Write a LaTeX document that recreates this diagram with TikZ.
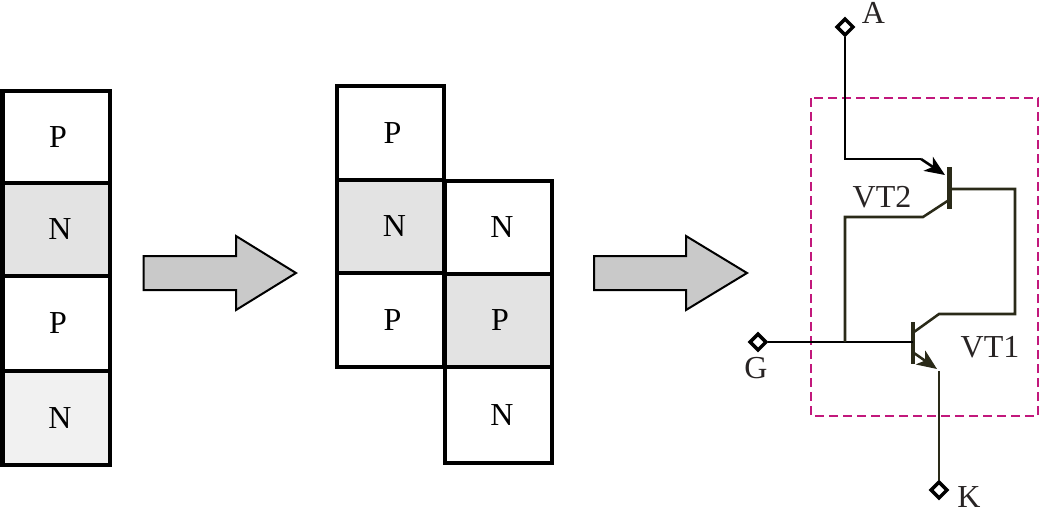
\documentclass[tikz,border=0pt]{standalone}
\usepackage{fontspec}
\setmainfont{Liberation Serif}
\usetikzlibrary{shapes.geometric,arrows.meta}
\definecolor{wire}{HTML}{2A2A18}
\definecolor{shadeA}{HTML}{E3E3E3}
\definecolor{shadeB}{HTML}{F1F1F1}
\definecolor{arrowgray}{HTML}{C9C9C9}
\definecolor{modborder}{HTML}{C2187C}
\newcommand{\cellP}{\hspace{3pt}P}
\newcommand{\cellN}{\hspace{6pt}N}
\tikzset{
  cell/.style={draw=black,line width=3pt,fill=white,minimum width=80.25pt,inner sep=0pt,font=\fontsize{24}{24}\selectfont},
  term/.style={diamond,draw=black,line width=2.6pt,fill=white,minimum width=13pt,minimum height=13pt,inner sep=0pt},
  lab/.style={inner sep=0pt,text=black!95!olive,font=\fontsize{24}{24}\selectfont},
  bigarrow/.style={draw=black,line width=1.5pt,fill=arrowgray,line join=miter},
  wireline/.style={draw=wire,line width=1.9pt},
  gbar/.style={draw=wire,line width=3.2pt},
  tip/.style={-{Stealth[length=15pt,width=12.5pt,inset=4pt]}}
}
\begin{document}
\begin{tikzpicture}[x=0.75pt,y=-0.75pt]
\useasboundingbox (0,0) rectangle (1040,511);
% left stack
\node[cell,minimum height=69.4pt] (a1) at (56,137) {\cellP};
\node[cell,minimum height=69.4pt,fill=shadeA] (a2) at (56,229.5) {\cellN};
\node[cell,minimum height=71.2pt] (a3) at (56,323.5) {\cellP};
\node[cell,minimum height=70.5pt,fill=shadeB] (a4) at (56,418) {\cellN};
% middle stack
\node[cell,minimum height=70.5pt] (b1) at (390.5,133) {\cellP};
\node[cell,minimum height=69.8pt,fill=shadeA] (b2) at (390.5,226.5) {\cellN};
\node[cell,minimum height=70.5pt] (b3) at (390.5,320) {\cellP};
\node[cell,minimum height=69.8pt] (c1) at (498,227.5) {\cellN};
\node[cell,minimum height=69.8pt,fill=shadeA] (c2) at (498,320.5) {\cellP};
\node[cell,minimum height=72pt] (c3) at (498,415) {\cellN};
% block arrows
\draw[bigarrow] (143.5,256) -- (236,256) -- (236,236) -- (296,273) -- (236,310) -- (236,290) -- (143.5,290) -- cycle;
\draw[bigarrow] (594,256) -- (686,256) -- (686,236) -- (747,273) -- (686,310) -- (686,290) -- (594,290) -- cycle;
% module border
\draw[modborder,line width=1.8pt,dash pattern=on 6.8pt off 3.7pt] (811,98) rectangle (1038,416);
% terminals
\node[term] (A) at (845,27) {};
\node[term] (G) at (758,342) {};
\node[term] (K) at (939,490) {};
% labels
\node[lab] (lA) at (873.5,12.5) {A};
\node[lab] (lG) at (756,368) {G};
\node[lab] (lK) at (969,497.5) {K};
\node[lab] (lVT2) at (882,197) {VT2};
\node[lab] (lVT1) at (990,347) {VT1};
% junction and bend points
\coordinate (e2a) at (845,159);
\coordinate (e2b) at (921,159);
\coordinate (e2c) at (945,175);
\coordinate (b2t) at (949.5,167);
\coordinate (b2b) at (949.5,209);
\coordinate (c2a) at (949.5,189);
\coordinate (c2b) at (1015,189);
\coordinate (c2c) at (1015,314);
\coordinate (c2d) at (939,314);
\coordinate (c2e) at (914,332);
\coordinate (b1t) at (913,322);
\coordinate (b1b) at (913,364);
\coordinate (bas) at (913,342);
\coordinate (jun) at (845,342);
\coordinate (q2a) at (845,217);
\coordinate (q2b) at (923,217);
\coordinate (q2c) at (949,200);
\coordinate (e1a) at (914,353);
\coordinate (e1b) at (937,369);
\coordinate (kt) at (939,371);
% wires
\draw[line width=1.9pt,draw=black,line join=miter] (A) -- (e2a) -- (e2b);
\draw[line width=1.9pt,draw=black,tip] (e2b) -- (e2c);
\draw[gbar] (b2t) -- (b2b);
\draw[wireline] (c2a) -- (c2b) -- (c2c) -- (c2d) -- (c2e);
\draw[gbar] (b1t) -- (b1b);
\draw[line width=2.2pt,draw=black] (G) -- (bas);
\draw[wireline] (jun) -- (q2a) -- (q2b) -- (q2c);
\draw[wireline,tip] (e1a) -- (e1b);
\draw[wireline] (kt) -- (K);
\end{tikzpicture}
\end{document}
